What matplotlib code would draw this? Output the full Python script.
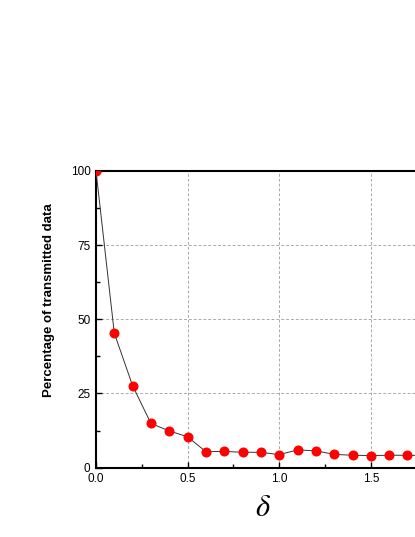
import matplotlib
matplotlib.use("Agg")
import matplotlib.pyplot as plt
from matplotlib.ticker import MultipleLocator, FormatStrFormatter

# delta values and percentage of transmitted data
delta = [0.0, 0.1, 0.2, 0.3, 0.4, 0.5, 0.6, 0.7, 0.8, 0.9,
         1.0, 1.1, 1.2, 1.3, 1.4, 1.5, 1.6, 1.7, 1.8]
percent = [100, 45.3, 27.6, 14.9, 12.4, 10.4, 5.4, 5.5, 5.2, 5.2,
           4.4, 6.0, 5.7, 4.5, 4.2, 4.1, 4.2, 4.2, 4.1]
x_ticks = [0.0, 0.5, 1.0, 1.5]

plt.rcParams['font.family'] = ['Liberation Sans', 'DejaVu Sans']
plt.rcParams['mathtext.fontset'] = 'stix'

fig = plt.figure(figsize=(4.15, 5.37), dpi=100)
# axes run off the right side of the figure, like the cropped original
ax = fig.add_axes([0.2313, 0.129, 0.883, 0.553])

ax.plot(delta, percent, color="#333333", lw=0.7, marker="o", markersize=6.2,
        markerfacecolor="red", markeredgecolor="red", zorder=3)

ax.set_xlim(0, 2.0)
ax.set_ylim(0, 100)
ax.set_xticks(x_ticks)
ax.xaxis.set_minor_locator(MultipleLocator(0.25))
ax.yaxis.set_major_locator(MultipleLocator(25))
ax.yaxis.set_minor_locator(MultipleLocator(12.5))
ax.xaxis.set_major_formatter(FormatStrFormatter('%.1f'))

ax.tick_params(which="both", direction="in", labelsize=8.5, width=1, pad=4)
ax.tick_params(which="major", length=4)
ax.tick_params(which="minor", length=3)

ax.grid(True, which="major", color="#aaaaaa", ls="--", lw=0.7, dashes=(3, 2))
for s in ax.spines.values():
    s.set_linewidth(1.5)

ax.set_ylabel("Percentage of transmitted data", fontsize=9.5, fontweight="bold")
ax.yaxis.set_label_coords(-0.112, 0.565)
ax.set_xlabel(r"$\delta$", fontsize=22)
ax.xaxis.set_label_coords(0.455, -0.085)

fig.savefig("out.png", dpi=100)
